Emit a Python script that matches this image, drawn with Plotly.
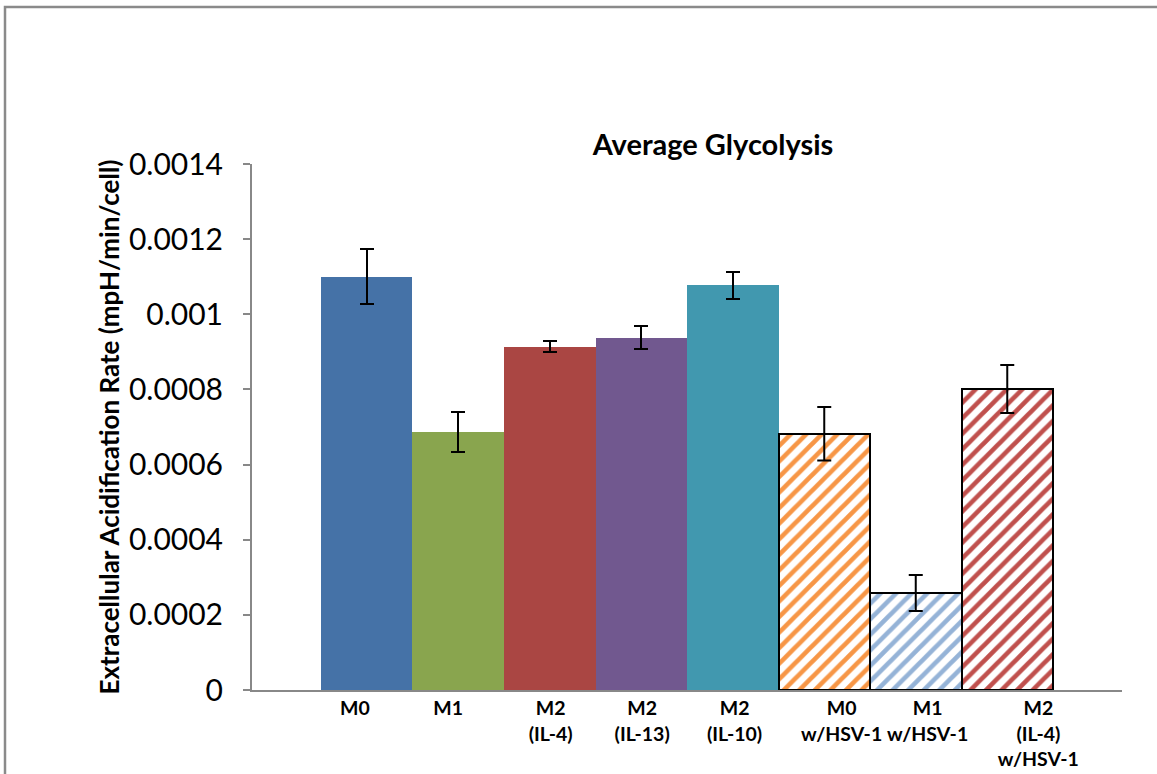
import numpy as np
import plotly.graph_objects as go

# ---- data ----
categories = ["M0", "M1", "M2<br>(IL-4)", "M2<br>(IL-13)", "M2<br>(IL-10)",
              "M0<br>w/HSV-1", "M1<br>w/HSV-1", "M2<br>(IL-4)<br>w/HSV-1"]
values = [0.00110, 0.000687, 0.000914, 0.000938, 0.001077, 0.000682, 0.000258, 0.000801]
errors = [0.000073, 0.000054, 0.000015, 0.000030, 0.000035, 0.000071, 0.000048, 0.000064]
y_tick_vals = [0, 0.0002, 0.0004, 0.0006, 0.0008, 0.0010, 0.0012, 0.0014]
y_tick_text = ["0", "0.0002", "0.0004", "0.0006", "0.0008", "0.001", "0.0012", "0.0014"]

# ---- styles ----
colors = ["#4572A7", "#89A54E", "#AA4643", "#71588F", "#4198AF",
          "#F79646", "#95B3D7", "#C0504D"]
hatched = [False, False, False, False, False, True, True, True]
label_shift = [-0.13, -0.11, 0.01, 0.01, 0.02, 0.19, 0.13, 0.34]

W, H = 1157, 774
L, R, T, B = 252, 35, 164, 84
font = "Lato"

x = np.arange(len(categories))
err_style = dict(type="data", visible=True, color="black", thickness=2, width=7)

fig = go.Figure()
solid = [i for i in x if not hatched[i]]
fig.add_trace(go.Bar(
    x=[x[i] for i in solid], y=[values[i] for i in solid], width=1.0,
    marker=dict(color=[colors[i] for i in solid], line=dict(width=0)),
    error_y=dict(array=[errors[i] for i in solid], **err_style),
    showlegend=False,
))
for i in x:
    if not hatched[i]:
        continue
    fig.add_trace(go.Bar(
        x=[x[i]], y=[values[i]], width=1.0,
        marker=dict(
            color="white",
            line=dict(color="black", width=2),
            pattern=dict(shape="/", fgcolor=colors[i], bgcolor="white",
                         fgopacity=1, fillmode="replace", size=11, solidity=0.42),
        ),
        error_y=dict(array=[errors[i]], **err_style),
        showlegend=False,
    ))

pw = W - L - R
ph = H - T - B
fig.update_layout(
    width=W, height=H,
    margin=dict(l=L, r=R, t=T, b=B),
    paper_bgcolor="white", plot_bgcolor="white",
    barmode="overlay",
    title=dict(text="<b>Average Glycolysis</b>", x=713 / W, xanchor="center",
               y=1 - 145 / H, yanchor="middle",
               font=dict(family=font, size=29, color="black")),
    bargap=0,
    xaxis=dict(range=[-1.254, 8.254], showline=True, linecolor="#888888", linewidth=2,
               showgrid=False, zeroline=False, ticks="", automargin=False,
               tickmode="array", tickvals=list(x + np.array(label_shift)),
               ticktext=["<b>%s</b>" % c for c in categories],
               tickfont=dict(family=font, size=19.5, color="black")),
    yaxis=dict(range=[0, 0.0014], showline=True, linecolor="#888888", linewidth=2,
               showgrid=False, zeroline=False, ticks="outside", ticklen=7,
               tickcolor="#888888", tickwidth=2, automargin=False,
               tickmode="array", tickvals=y_tick_vals, ticktext=y_tick_text,
               ticklabelstandoff=14,
               tickfont=dict(family=font, size=30, color="black"),
               title=dict(text="<b>Extracellular Acidification Rate (mpH/min/cell)</b>",
                          font=dict(family=font, size=26, color="black"),
                          standoff=2)),
    shapes=[dict(type="rect", xref="paper", yref="paper",
                 x0=(5 - L) / pw, x1=(W + 20 - L) / pw,
                 y0=(H - B - (H + 20)) / ph, y1=(H - B - 7) / ph,
                 line=dict(color="#8a8a8a", width=2.5), fillcolor="rgba(0,0,0,0)",
                 layer="below")],
)

fig.write_html("out.html")
